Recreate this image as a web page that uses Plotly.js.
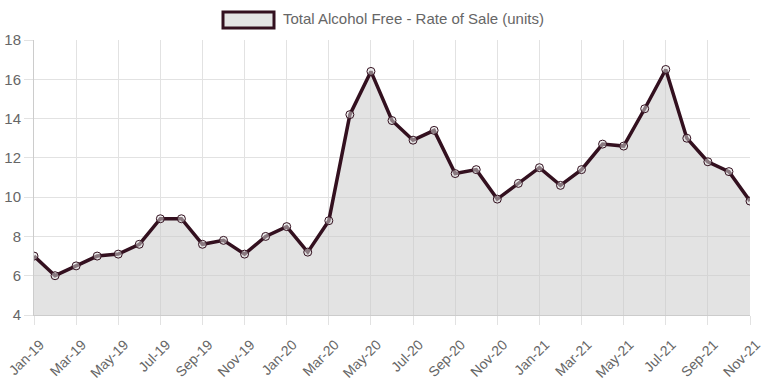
<!DOCTYPE html>
<html>
<head>
<meta charset="utf-8">
<script src="https://cdn.plot.ly/plotly-3.0.1.min.js"></script>
<style>html,body{margin:0;padding:0;background:#fff;}#chart{width:767px;height:383px;}</style>
</head>
<body>
<div id="chart"></div>
<script>
var months = ["Jan-19","Feb-19","Mar-19","Apr-19","May-19","Jun-19","Jul-19","Aug-19","Sep-19","Oct-19","Nov-19","Dec-19",
              "Jan-20","Feb-20","Mar-20","Apr-20","May-20","Jun-20","Jul-20","Aug-20","Sep-20","Oct-20","Nov-20","Dec-20",
              "Jan-21","Feb-21","Mar-21","Apr-21","May-21","Jun-21","Jul-21","Aug-21","Sep-21","Oct-21","Nov-21"];
var rateOfSale = [7.0,6.0,6.5,7.0,7.1,7.6,8.9,8.9,7.6,7.8,7.1,8.0,
                  8.5,7.2,8.8,14.2,16.4,13.9,12.9,13.4,11.2,11.4,9.9,10.7,
                  11.5,10.6,11.4,12.7,12.6,14.5,16.5,13.0,11.8,11.3,9.8];
var seriesName = "Total Alcohol Free - Rate of Sale (units)";
var tickLabels = months.filter(function(m, i){ return i % 2 === 0; });

var lineColor = "#33101f";
var trace = {
  x: months, y: rateOfSale, type: "scatter", mode: "lines+markers",
  name: seriesName, fill: "tozeroy", fillcolor: "rgba(200,200,200,0.5)",
  line: {color: lineColor, width: 3.5},
  marker: {size: 8, color: "rgba(225,225,225,0.5)", line: {color: lineColor, width: 1}},
  showlegend: false, hoverinfo: "x+y"
};

var layout = {
  width: 767, height: 383,
  margin: {l: 34, r: 17, t: 40, b: 68},
  paper_bgcolor: "#fff", plot_bgcolor: "#fff",
  font: {family: "Liberation Sans, Arial, sans-serif", color: "#666"},
  xaxis: {
    type: "category", range: [0, months.length - 1],
    tickmode: "array", tickvals: tickLabels, ticktext: tickLabels,
    tickangle: -45, tickfont: {size: 14, color: "#666"},
    ticklabelshift: 6, ticklabelstandoff: 6,
    showgrid: true, gridcolor: "#e2e2e2", gridwidth: 1,
    ticks: "outside", ticklen: 9, tickcolor: "#e2e2e2",
    showline: true, linecolor: "#cccccc", linewidth: 1,
    zeroline: false, fixedrange: true
  },
  yaxis: {
    range: [4, 18], dtick: 2, tick0: 4,
    tickfont: {size: 15, color: "#666"},
    showgrid: true, gridcolor: "#e2e2e2", gridwidth: 1,
    ticks: "outside", ticklen: 9, tickcolor: "#e2e2e2",
    showline: true, linecolor: "#cccccc", linewidth: 1,
    zeroline: false, fixedrange: true
  },
  shapes: [{
    type: "rect", xref: "paper", yref: "paper",
    x0: (223 - 34) / 716, x1: (274 - 34) / 716,
    y0: (315 - 28) / 275, y1: (315 - 12) / 275,
    fillcolor: "#e4e4e4", line: {color: lineColor, width: 3}
  }],
  annotations: [{
    xref: "paper", yref: "paper", x: (281 - 34) / 716, y: (315 - 19) / 275,
    xanchor: "left", yanchor: "middle", showarrow: false,
    text: seriesName, font: {size: 15, color: "#666"}
  }]
};

Plotly.newPlot("chart", [trace], layout, {displayModeBar: false, staticPlot: true});
</script>
</body>
</html>
